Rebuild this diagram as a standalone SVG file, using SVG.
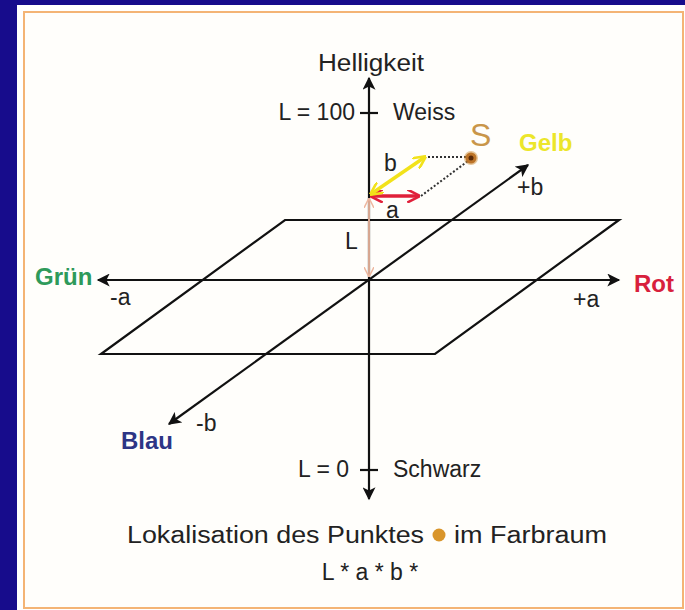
<svg xmlns="http://www.w3.org/2000/svg" width="685" height="610" viewBox="0 0 685 610">
<defs>
<style>
.t{font-family:"Liberation Sans",Arial,sans-serif;font-size:23px;fill:#222}
.b{font-weight:bold;font-size:24px}
.ax{stroke:#111;stroke-width:2.2;fill:none}
.dot{stroke:#333;stroke-width:2;stroke-dasharray:2 2;fill:none}
</style>
<marker id="ah" viewBox="0 0 10 10" refX="9" refY="5" markerWidth="14" markerHeight="13" orient="auto-start-reverse" markerUnits="userSpaceOnUse"><path d="M0,0 L10,5 L0,10 L2.5,5 Z" fill="#111"/></marker>
<marker id="ahr" viewBox="0 0 10 10" refX="9" refY="5" markerWidth="13" markerHeight="13" orient="auto-start-reverse" markerUnits="userSpaceOnUse"><path d="M0,0 L10,5 L0,10" fill="none" stroke="#e0203a" stroke-width="2"/></marker>
<marker id="ahy" viewBox="0 0 10 10" refX="9" refY="5" markerWidth="13" markerHeight="13" orient="auto-start-reverse" markerUnits="userSpaceOnUse"><path d="M0,0 L10,5 L0,10" fill="none" stroke="#f2e21a" stroke-width="2"/></marker>
<marker id="ahp" viewBox="0 0 10 10" refX="9" refY="5" markerWidth="10" markerHeight="10" orient="auto-start-reverse" markerUnits="userSpaceOnUse"><path d="M0,0 L10,5 L0,10" fill="none" stroke="#eeb8a0" stroke-width="1.5"/></marker>
</defs>
<rect width="685" height="610" fill="#170c8c"/>
<rect x="17" y="5" width="668" height="605" fill="#ffffff"/>
<rect x="24" y="12" width="659" height="596" fill="#fffefb" stroke="#f4b475" stroke-width="2"/>

<g id="plane">
<path class="ax" d="M285,220 L619,220 L435,354 L101,354 Z"/>
</g>

<g id="connectors">
<line class="ax" x1="369" y1="470" x2="369" y2="78" marker-end="url(#ah)"/>
<line class="ax" x1="369" y1="470" x2="369" y2="499" marker-end="url(#ah)"/>
<line class="ax" x1="360" y1="113" x2="378" y2="113"/>
<line class="ax" x1="360" y1="470" x2="378" y2="470"/>
<line class="ax" x1="98" y1="280" x2="619" y2="280" marker-start="url(#ah)" marker-end="url(#ah)"/>
<line class="ax" x1="169" y1="424" x2="528" y2="165" marker-start="url(#ah)" marker-end="url(#ah)"/>
<line x1="369" y1="199" x2="369" y2="276" stroke="#eeb8a0" stroke-width="1.8" marker-start="url(#ahp)" marker-end="url(#ahp)"/>
<line x1="371" y1="196" x2="419" y2="196" stroke="#e0203a" stroke-width="3.5" marker-start="url(#ahr)" marker-end="url(#ahr)"/>
<line x1="371" y1="194" x2="425" y2="157" stroke="#f2e21a" stroke-width="3.5" marker-start="url(#ahy)" marker-end="url(#ahy)"/>
<line class="dot" x1="428" y1="157" x2="468" y2="157"/>
<line class="dot" x1="421" y1="196" x2="468" y2="161"/>
</g>

<g id="point-S">
<circle cx="471" cy="158" r="7" fill="#d0903a" opacity="0.5"/>
<circle cx="471" cy="158" r="5.5" fill="#b86a1c" opacity="0.9"/>
<circle cx="471" cy="158" r="2.5" fill="#5a2a08"/>
<text x="470" y="146" font-family="Liberation Sans,Arial,sans-serif" font-size="32" fill="#c9964a">S</text>
</g>

<g id="labels">
<text class="t" x="371" y="71" text-anchor="middle" textLength="106" lengthAdjust="spacingAndGlyphs">Helligkeit</text>
<text class="t" x="355" y="120" text-anchor="end">L = 100</text>
<text class="t" x="393" y="120">Weiss</text>
<text class="t" x="349" y="477" text-anchor="end">L = 0</text>
<text class="t" x="393" y="477">Schwarz</text>
<text class="t" x="384" y="171">b</text>
<text class="t" x="386" y="218">a</text>
<text class="t" x="345" y="249">L</text>
<text class="t" x="110" y="305">-a</text>
<text class="t" x="573" y="307">+a</text>
<text class="t" x="517" y="195">+b</text>
<text class="t" x="196" y="431">-b</text>
<text class="t b" x="519" y="151" style="fill:#ece62a">Gelb</text>
<text class="t b" x="35" y="285" style="fill:#2e9a5a">Grün</text>
<text class="t b" x="634" y="292" style="fill:#d8203c">Rot</text>
<text class="t b" x="121" y="449" style="fill:#2d3585">Blau</text>
</g>

<g id="caption">
<text class="t" x="127" y="543" textLength="297" lengthAdjust="spacingAndGlyphs">Lokalisation des Punktes</text>
<circle cx="439" cy="535" r="6.5" fill="#d9952a"/>
<text class="t" x="454" y="543" textLength="153" lengthAdjust="spacingAndGlyphs">im Farbraum</text>
<text class="t" x="370" y="580" text-anchor="middle">L * a * b *</text>
</g>
</svg>
